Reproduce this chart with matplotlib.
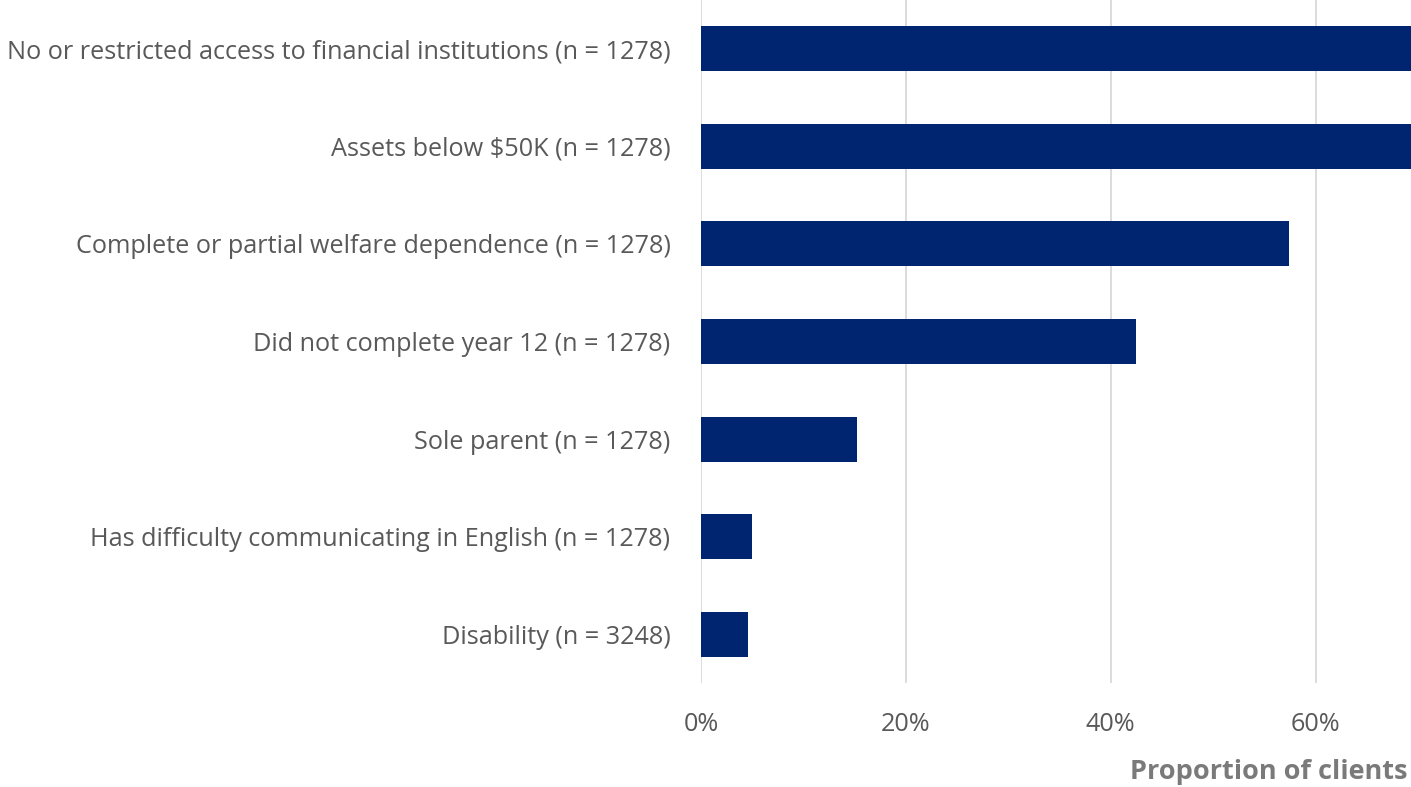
import matplotlib.pyplot as plt
from matplotlib.ticker import FuncFormatter

# Client characteristics, top to bottom
categories = [
    "No or restricted access to financial institutions (n = 1278)",
    "Assets below $50K (n = 1278)",
    "Complete or partial welfare dependence (n = 1278)",
    "Did not complete year 12 (n = 1278)",
    "Sole parent (n = 1278)",
    "Has difficulty communicating in English (n = 1278)",
    "Disability (n = 3248)",
]
proportions = [84.0, 78.0, 57.4, 42.5, 15.2, 5.0, 4.6]

plt.rcParams['font.family'] = ['Open Sans', 'DejaVu Sans']

fig = plt.figure(figsize=(14.11, 7.87), dpi=100)
ax = fig.add_axes([701 / 1411, 104 / 787, 710 / 1411, 683 / 787])

ypos = list(range(len(categories)))
ax.barh(ypos, proportions, height=0.46, color="#002570", zorder=3)

ax.set_xlim(0, 69.3)
ax.set_ylim(6.5, -0.5)
ax.set_xticks([0, 20, 40, 60])
ax.xaxis.set_major_formatter(FuncFormatter(lambda v, p: f"{v:.0f}%"))
ax.set_yticks(ypos)
ax.set_yticklabels(categories)

ax.grid(axis="x", color="#d9d9d9", linewidth=1.3, zorder=0)
for side in ["top", "right", "bottom", "left"]:
    ax.spines[side].set_visible(False)
ax.tick_params(axis="both", length=0, labelsize=18.2, colors="#595959")
ax.tick_params(axis="x", pad=21)
ax.tick_params(axis="y", pad=22)

fig.text(1408 / 1411, 15 / 787, "Proportion of clients", ha="right", va="center",
         fontsize=19.5, fontweight="bold", color="#7a7a7a")

fig.savefig("out.png", dpi=100)
